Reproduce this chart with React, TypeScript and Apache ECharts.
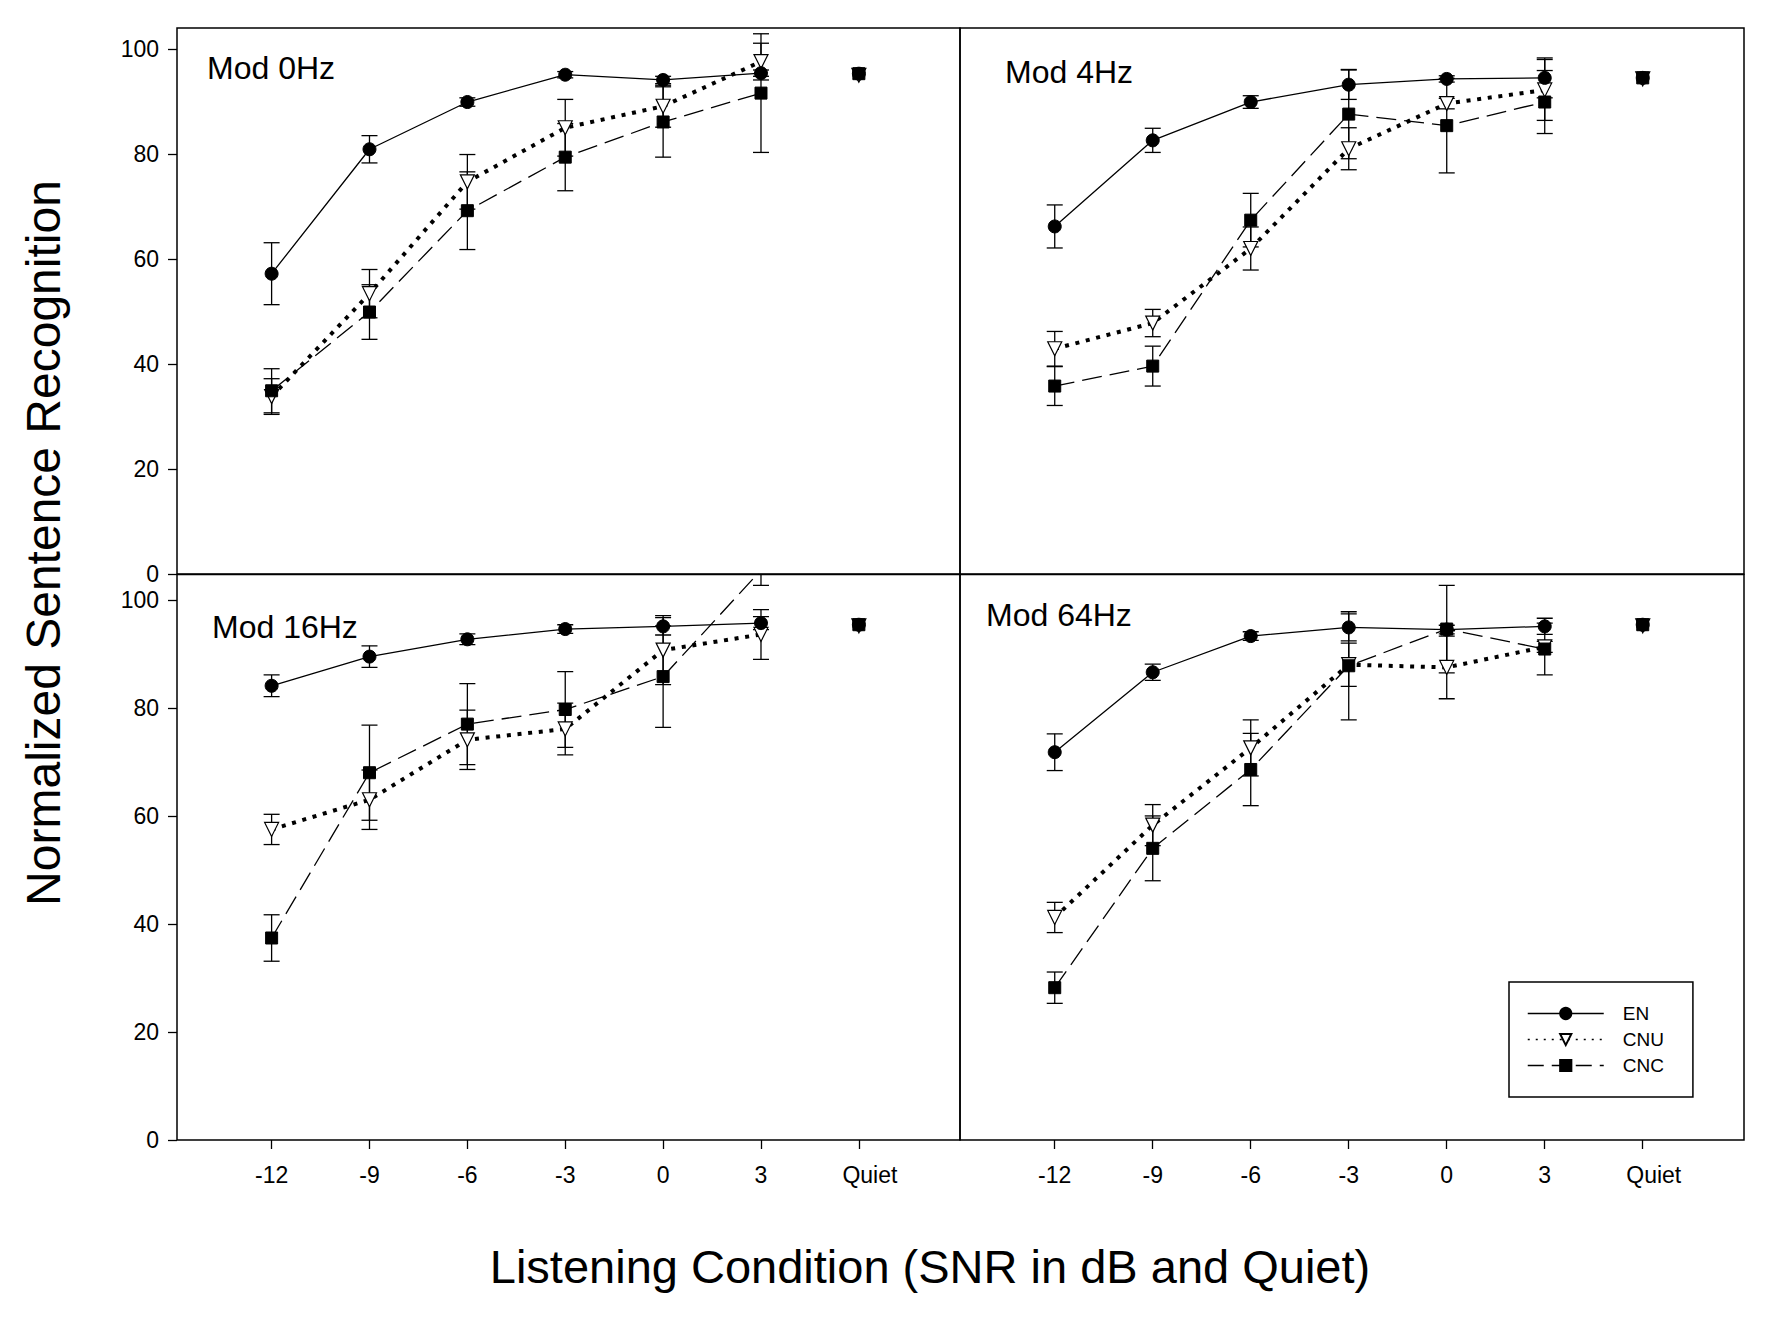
import React, { useEffect, useRef } from "react";
import * as echarts from "echarts";

// ---------- data ----------
const snrTickValues = [-12, -9, -6, -3, 0, 3, 6];
const snrTickLabels = ["-12", "-9", "-6", "-3", "0", "3", "Quiet"];
const snrPoints = [-12, -9, -6, -3, 0, 3];
const quietX = 6;
const yTickValues = [0, 20, 40, 60, 80, 100];
const panelTitles = ["Mod 0Hz", "Mod 4Hz", "Mod 16Hz", "Mod 64Hz"];
const groupNames = ["EN", "CNU", "CNC"];

// Mod 0Hz
const en0 = [57.2, 80.9, 89.9, 95.1, 94.1, 95.4];
const en0Err = [5.9, 2.6, 0.8, 0.6, 0.7, 0.6];
const cnu0 = [33.8, 53.4, 74.7, 85.0, 89.1, 97.6];
const cnu0Err = [3.4, 4.6, 5.2, 5.4, 4.0, 3.5];
const cnc0 = [34.9, 49.9, 69.2, 79.4, 86.1, 91.6];
const cnc0Err = [4.2, 5.2, 7.4, 6.4, 6.7, 11.3];
const quiet0 = [95.3, 95.0, 95.3];

// Mod 4Hz
const en4 = [66.2, 82.6, 89.9, 93.2, 94.3, 94.5];
const en4Err = [4.1, 2.3, 1.2, 2.8, 0.6, 3.8];
const cnu4 = [42.9, 47.8, 62.0, 81.0, 89.6, 92.2];
const cnu4Err = [3.3, 2.6, 4.1, 4.0, 1.0, 5.8];
const cnc4 = [35.8, 39.6, 67.4, 87.6, 85.4, 89.9];
const cnc4Err = [3.7, 3.8, 5.1, 8.5, 9.0, 6.0];
const quiet4 = [94.5, 94.3, 94.5];

// Mod 16Hz
const en16 = [84.1, 89.5, 92.7, 94.6, 95.1, 95.7];
const en16Err = [2.0, 2.0, 1.0, 0.8, 1.6, 1.2];
const cnu16 = [57.5, 63.0, 74.1, 76.1, 90.7, 93.6];
const cnu16Err = [2.8, 5.5, 5.5, 4.8, 6.4, 4.6];
const cnc16 = [37.4, 68.0, 77.0, 79.7, 85.8, 105.5];
const cnc16Err = [4.3, 8.8, 7.5, 7.0, 9.4, 2.8];
const quiet16 = [95.4, 95.2, 95.4];

// Mod 64Hz
const en64 = [71.8, 86.6, 93.3, 94.9, 94.5, 95.1];
const en64Err = [3.4, 1.5, 0.8, 2.5, 0.8, 1.5];
const cnu64 = [41.2, 58.3, 72.6, 88.0, 87.5, 91.3];
const cnu64Err = [2.8, 3.8, 5.2, 4.0, 5.8, 1.0];
const cnc64 = [28.2, 54.0, 68.6, 87.8, 94.6, 90.9];
const cnc64Err = [2.9, 6.0, 6.7, 10.0, 8.1, 4.8];
const quiet64 = [95.4, 95.2, 95.4];

const panelMeans = [
  [en0, cnu0, cnc0],
  [en4, cnu4, cnc4],
  [en16, cnu16, cnc16],
  [en64, cnu64, cnc64],
];
const panelErrs = [
  [en0Err, cnu0Err, cnc0Err],
  [en4Err, cnu4Err, cnc4Err],
  [en16Err, cnu16Err, cnc16Err],
  [en64Err, cnu64Err, cnc64Err],
];
const panelQuiet = [quiet0, quiet4, quiet16, quiet64];

// ---------- styling ----------
const FONT = '"Liberation Sans", Arial, sans-serif';
const BLACK = "#000";

const groupStyles = [
  {
    symbol: "circle",
    symbolSize: 13,
    symbolRotate: 0,
    itemStyle: { color: BLACK, borderColor: BLACK, borderWidth: 1 },
    lineStyle: { color: BLACK, width: 1.3, type: "solid" as any },
  },
  {
    symbol: "triangle",
    symbolSize: 14,
    symbolRotate: 180,
    itemStyle: { color: "#fff", borderColor: BLACK, borderWidth: 1.2 },
    lineStyle: { color: BLACK, width: 4, type: [4, 6.7] as any, cap: "butt" },
  },
  {
    symbol: "rect",
    symbolSize: 12,
    symbolRotate: 0,
    itemStyle: { color: BLACK, borderColor: BLACK, borderWidth: 1 },
    lineStyle: { color: BLACK, width: 1.3, type: [20, 8] as any },
  },
];

const grids = [
  { left: 177, top: 28, width: 783, height: 546 },
  { left: 960, top: 28, width: 784, height: 546 },
  { left: 177, top: 574.5, width: 783, height: 565.5 },
  { left: 960, top: 574.5, width: 784, height: 565.5 },
];
const yMaxes = [104, 104, 104.7, 104.7];
const titlePos = [
  [207, 68],
  [1005, 72],
  [212, 627],
  [986, 615],
];

function errorBarRender(params: any, api: any) {
  const x = api.value(0);
  const lo = api.value(1);
  const hi = api.value(2);
  const p1 = api.coord([x, lo]);
  const p2 = api.coord([x, hi]);
  const hw = 8;
  const style = { stroke: BLACK, lineWidth: 1.3 };
  return {
    type: "group",
    children: [
      { type: "line", shape: { x1: p1[0], y1: p1[1], x2: p2[0], y2: p2[1] }, style },
      { type: "line", shape: { x1: p1[0] - hw, y1: p1[1], x2: p1[0] + hw, y2: p1[1] }, style },
      { type: "line", shape: { x1: p2[0] - hw, y1: p2[1], x2: p2[0] + hw, y2: p2[1] }, style },
    ],
  };
}

function buildOption() {
  const xAxis: any[] = [];
  const yAxis: any[] = [];
  grids.forEach((g, p) => {
    const bottom = p >= 2;
    const left = p % 2 === 0;
    xAxis.push({
      type: "value",
      gridIndex: p,
      min: -14.9,
      max: 9.1,
      position: "bottom",
      show: bottom,
      axisLine: { show: false, onZero: false },
      splitLine: { show: false },
      axisTick: {
        show: bottom,
        inside: false,
        length: 9,
        customValues: snrTickValues,
        lineStyle: { color: BLACK, width: 1.3 },
      },
      axisLabel: {
        show: bottom,
        customValues: snrTickValues,
        margin: 23,
        color: BLACK,
        fontSize: 23,
        fontFamily: FONT,
        formatter: (v: number) => {
          const i = snrTickValues.indexOf(v);
          if (i < 0) return "";
          return v === quietX ? `{q|${snrTickLabels[i]}}` : snrTickLabels[i];
        },
        rich: {
          q: {
            fontSize: 23,
            fontFamily: FONT,
            color: BLACK,
            padding: [0, 0, 0, 22],
          },
        },
      },
    });
    yAxis.push({
      type: "value",
      gridIndex: p,
      min: 0,
      max: yMaxes[p],
      position: "left",
      show: left,
      axisLine: { show: false, onZero: false },
      splitLine: { show: false },
      axisTick: {
        show: left,
        length: 9,
        customValues: yTickValues,
        lineStyle: { color: BLACK, width: 1.3 },
      },
      axisLabel: {
        show: left,
        customValues: yTickValues,
        margin: 18,
        color: BLACK,
        fontSize: 23,
        fontFamily: FONT,
      },
    });
  });

  const lineSeries: any[] = [];
  const quietSeries: any[] = [];
  const errSeries: any[] = [];
  panelMeans.forEach((groups, p) => {
    groups.forEach((means, gi) => {
      const st = groupStyles[gi];
      const errs = panelErrs[p][gi];
      errSeries.push({
        type: "custom",
        name: `${groupNames[gi]}-err-${p}`,
        xAxisIndex: p,
        yAxisIndex: p,
        clip: true,
        z: 2,
        renderItem: errorBarRender,
        data: snrPoints.map((x, i) => [x, means[i] - errs[i], means[i] + errs[i]]),
        silent: true,
      });
      lineSeries.push({
        type: "line",
        name: groupNames[gi],
        xAxisIndex: p,
        yAxisIndex: p,
        clip: true,
        z: 3 + (gi === 0 ? 2 : gi === 2 ? 1 : 0),
        symbol: st.symbol,
        symbolSize: st.symbolSize,
        symbolRotate: st.symbolRotate,
        showAllSymbol: true,
        itemStyle: st.itemStyle,
        lineStyle: st.lineStyle,
        data: snrPoints.map((x, i) => [x, means[i]]),
        silent: true,
      });
      quietSeries.push({
        type: "line",
        name: groupNames[gi],
        xAxisIndex: p,
        yAxisIndex: p,
        clip: true,
        z: 3 + (gi === 0 ? 2 : gi === 2 ? 1 : 0),
        symbol: st.symbol,
        symbolSize: st.symbolSize,
        symbolRotate: st.symbolRotate,
        showAllSymbol: true,
        itemStyle: st.itemStyle,
        lineStyle: st.lineStyle,
        data: [[quietX, panelQuiet[p][gi]]],
        silent: true,
      });
    });
  });

  const graphics: any[] = panelTitles.map((t, p) => ({
    type: "text",
    x: titlePos[p][0],
    y: titlePos[p][1],
    style: {
      text: t,
      font: `32px ${FONT}`,
      fill: BLACK,
      align: "left",
      verticalAlign: "middle",
    },
  }));
  graphics.push({
    type: "text",
    x: 43,
    y: 543,
    rotation: Math.PI / 2,
    style: {
      text: "Normalized Sentence Recognition",
      font: `48px ${FONT}`,
      fill: BLACK,
      align: "center",
      verticalAlign: "middle",
    },
  });
  graphics.push({
    type: "text",
    x: 930,
    y: 1266,
    style: {
      text: "Listening Condition (SNR in dB and Quiet)",
      font: `47px ${FONT}`,
      fill: BLACK,
      align: "center",
      verticalAlign: "middle",
    },
  });

  return {
    animation: false,
    backgroundColor: "#fff",
    grid: grids.map((g) => ({
      ...g,
      show: true,
      borderColor: BLACK,
      borderWidth: 1.5,
      backgroundColor: "transparent",
      containLabel: false,
    })),
    xAxis,
    yAxis,
    legend: {
      show: true,
      orient: "vertical",
      left: 1509,
      top: 982,
      padding: [22, 29, 22, 18],
      itemWidth: 76,
      itemHeight: 14,
      itemGap: 7,
      borderColor: BLACK,
      borderWidth: 1.5,
      backgroundColor: "#fff",
      selectedMode: false,
      textStyle: {
        color: BLACK,
        fontSize: 19,
        fontFamily: FONT,
        padding: [0, 0, 0, 14],
      },
      data: [
        { name: "EN", lineStyle: { width: 1.5 } },
        { name: "CNU", lineStyle: { width: 1.5, type: [2, 6] } },
        { name: "CNC", lineStyle: { width: 1.5, type: [16, 8] } },
      ],
    },
    graphic: graphics,
    series: [...lineSeries, ...errSeries, ...quietSeries],
  };
}

export default function App() {
  const ref = useRef<HTMLDivElement>(null);
  useEffect(() => {
    if (!ref.current) return;
    const chart = echarts.init(ref.current, undefined, { renderer: "svg" });
    chart.setOption(buildOption() as any);
    return () => chart.dispose();
  }, []);
  return (
    <div
      ref={ref}
      style={{
        position: "absolute",
        left: 0,
        top: 0,
        width: 1772,
        height: 1317,
        background: "#fff",
      }}
    />
  );
}
